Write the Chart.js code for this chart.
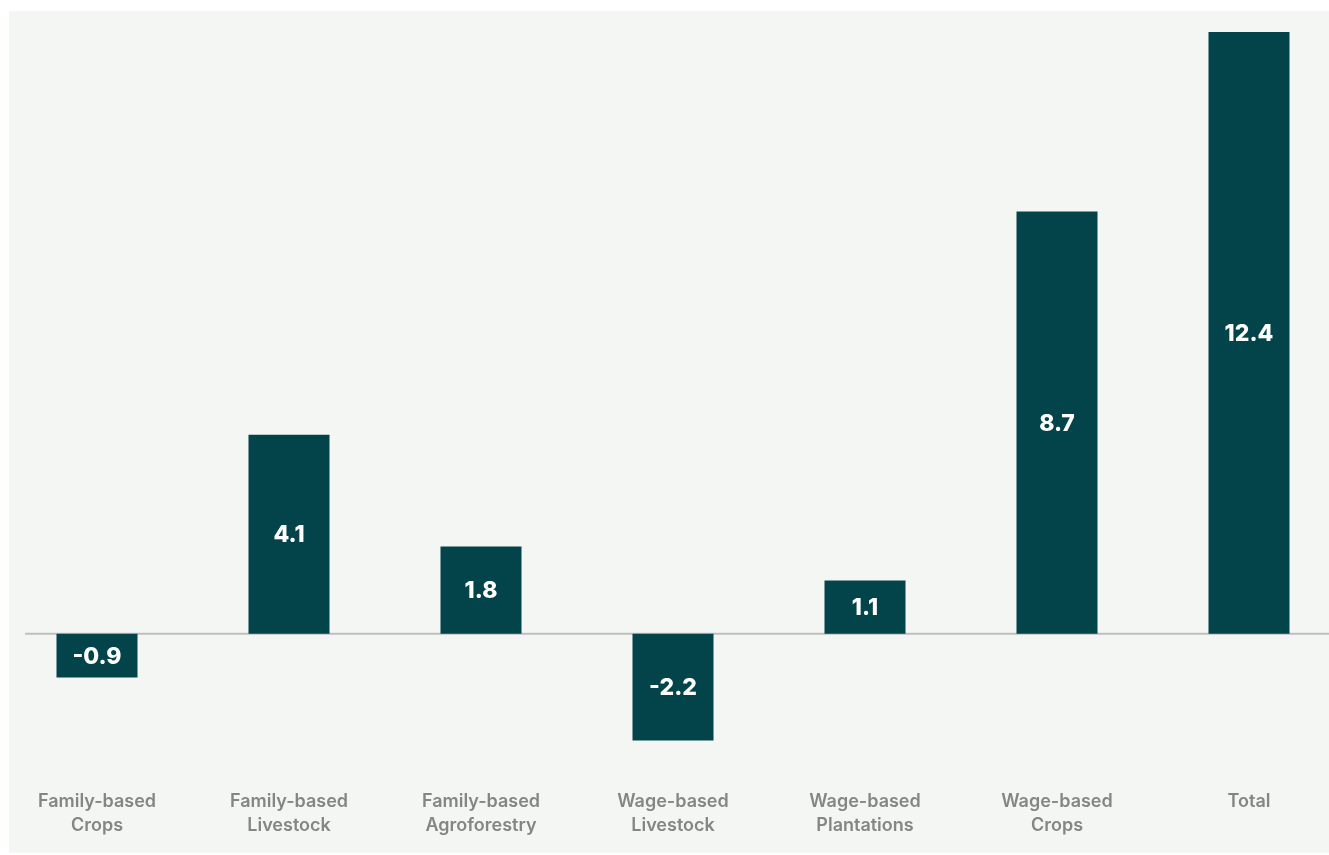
<!DOCTYPE html>
<html>
<head>
<meta charset="utf-8">
<script src="https://cdn.jsdelivr.net/npm/chart.js@4"></script>
<style>
  html, body { margin: 0; padding: 0; background: #ffffff; overflow: hidden; }
  #panel { position: absolute; left: 9px; top: 11px; width: 1320px; height: 842px; background: #f4f6f4; }
  #Charts { position: absolute; left: 0; top: 0; }
</style>
</head>
<body>
<div id="panel"></div>
<canvas id="Charts" width="1345" height="855"></canvas>
<script>
// categories and values
var xlabel = [
  ['Family-based', 'Crops'],
  ['Family-based', 'Livestock'],
  ['Family-based', 'Agroforestry'],
  ['Wage-based', 'Livestock'],
  ['Wage-based', 'Plantations'],
  ['Wage-based', 'Crops'],
  ['Total']
];
var yvalue = [-0.9, 4.1, 1.8, -2.2, 1.1, 8.7, 12.4];

var barColor = '#03444a';

// zero line across the panel
var zeroLine = {
  id: 'zeroLine',
  beforeDatasetsDraw: function(chart) {
    var ctx = chart.ctx;
    var y = chart.scales.y.getPixelForValue(0);
    ctx.save();
    ctx.strokeStyle = '#bfbfbf';
    ctx.lineWidth = 2;
    ctx.beginPath();
    ctx.moveTo(chart.chartArea.left + 24, y);
    ctx.lineTo(chart.chartArea.right, y);
    ctx.stroke();
    ctx.restore();
  }
};

// value text in the middle of each bar
var barValues = {
  id: 'barValues',
  afterDatasetsDraw: function(chart) {
    var ctx = chart.ctx;
    var meta = chart.getDatasetMeta(0);
    ctx.save();
    ctx.fillStyle = '#ffffff';
    ctx.font = '800 23px Inter';
    ctx.textAlign = 'center';
    ctx.textBaseline = 'middle';
    meta.data.forEach(function(bar, i) {
      var mid = (bar.y + bar.base) / 2;
      ctx.fillText(yvalue[i].toFixed(1), bar.x, mid + 1);
    });
    ctx.restore();
  }
};

Chart.defaults.font.family = 'Inter';

var ctx = document.getElementById('Charts').getContext('2d');
var myChart = new Chart(ctx, {
  type: 'bar',
  data: {
    labels: xlabel,
    datasets: [{
      data: yvalue,
      backgroundColor: barColor,
      borderWidth: 0,
      barPercentage: 0.422,
      categoryPercentage: 1
    }]
  },
  options: {
    responsive: false,
    animation: false,
    layout: { padding: { left: 1, right: 0, top: 32, bottom: 0 } },
    plugins: { legend: { display: false }, tooltip: { enabled: false } },
    scales: {
      x: {
        grid: { display: false, drawTicks: false },
        border: { display: false },
        ticks: {
          color: '#858585',
          font: { size: 18, weight: 600, lineHeight: 1.33 },
          padding: 30,
          maxRotation: 0,
          autoSkip: false
        },
        afterFit: function(scale) { scale.height = 95; }
      },
      y: {
        display: false,
        min: -2.6,
        max: 12.4
      }
    }
  },
  plugins: [zeroLine, barValues]
});
</script>
</body>
</html>
